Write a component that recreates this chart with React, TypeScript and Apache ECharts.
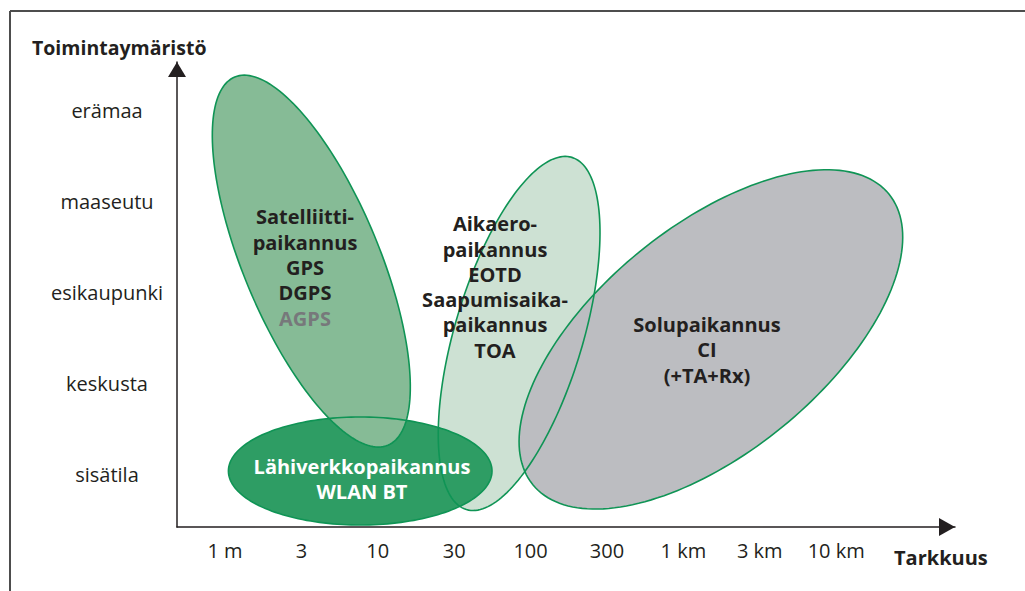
import React, { useEffect, useRef } from "react";
import * as echarts from "echarts";

// Axis categories
const accuracyLabels = ["1 m", "3", "10", "30", "100", "300", "1 km", "3 km", "10 km"];
const environmentLabels = ["sisätila", "keskusta", "esikaupunki", "maaseutu", "erämaa"];

// Positioning methods (drawn in this order)
const methodNames = ["Aikaero", "Solupaikannus", "Lähiverkko", "Satelliitti"];
// centre of each method's region (accuracy index, environment index)
const centerAccuracy = [3.85, 6.36, 1.77, 1.13];
const centerEnvironment = [1.555, 1.49, 0.044, 2.35];
// end point of the main axis of each region
const axisEndAccuracy = [4.54, 8.69, 3.495, 0.128];
const axisEndEnvironment = [3.49, 3.087, 0.044, 4.373];
// half-width across the main axis (accuracy units)
const crossRadius = [0.838, 1.479, 0.707, 0.89];
// label anchor for each region
const labelAccuracy = [3.534, 6.309, 1.793, 1.047];
const labelEnvironment = [2.066, 1.374, -0.044, 2.28];
const methodTexts = [
  "Aikaero-\npaikannus\nEOTD\nSaapumisaika-\npaikannus\nTOA",
  "Solupaikannus\nCI\n(+TA+Rx)",
  "Lähiverkkopaikannus\nWLAN BT",
  "Satelliitti-\npaikannus\nGPS\nDGPS\n{g|AGPS}",
];

const FILLS = ["#cde1d3", "#bcbdc1", "#2e9d64", "#86bb96"];
const TEXT_COLORS = ["#231f20", "#231f20", "#ffffff", "#231f20"];
const STROKE = "#0f9455";
const FONT = '"Open Sans", "Noto Sans", sans-serif';

const X_MIN = -0.628;
const X_MAX = 9.555;
const Y_MIN = -0.5714;
const Y_MAX = 4.538;

function ellipsePoints(api: any) {
  const c = api.coord([api.value(0), api.value(1)]);
  const e = api.coord([api.value(2), api.value(3)]);
  const dx = e[0] - c[0];
  const dy = e[1] - c[1];
  const a = Math.hypot(dx, dy);
  const ux = dx / a;
  const uy = dy / a;
  const b = api.size([api.value(4), 0])[0];
  const pts: number[][] = [];
  const n = 180;
  for (let k = 0; k < n; k++) {
    const t = (2 * Math.PI * k) / n;
    const ca = Math.cos(t) * a;
    const sb = Math.sin(t) * b;
    pts.push([c[0] + ux * ca - uy * sb, c[1] + uy * ca + ux * sb]);
  }
  return pts;
}

export default function App() {
  const ref = useRef<HTMLDivElement>(null);
  useEffect(() => {
    document.body.style.margin = "0";
    if (!ref.current) return;
    const chart = echarts.init(ref.current, undefined, { renderer: "svg" });
    const regionData = methodNames.map((_, i) => [
      centerAccuracy[i],
      centerEnvironment[i],
      axisEndAccuracy[i],
      axisEndEnvironment[i],
      crossRadius[i],
    ]);
    const labelData = methodNames.map((_, i) => [labelAccuracy[i], labelEnvironment[i]]);
    const axisLineStyle = { color: "#231f20", width: 1.5 };
    chart.setOption({
      animation: false,
      backgroundColor: "#ffffff",
      grid: { left: 177, right: 70, top: 62, bottom: 64 },
      xAxis: {
        type: "value",
        min: X_MIN,
        max: X_MAX,
        splitLine: { show: false },
        axisTick: { show: false },
        axisLine: {
          show: true,
          onZero: false,
          symbol: ["none", "triangle"],
          symbolSize: [18, 16],
          symbolOffset: [0, -8],
          lineStyle: axisLineStyle,
        },
        axisLabel: {
          customValues: accuracyLabels.map((_, i) => i),
          formatter: (v: number) => accuracyLabels[Math.round(v)] ?? "",
          color: "#231f20",
          fontFamily: FONT,
          fontSize: 20,
          margin: 13,
        },
      },
      yAxis: {
        type: "value",
        min: Y_MIN,
        max: Y_MAX,
        splitLine: { show: false },
        axisTick: { show: false },
        axisLine: {
          show: true,
          onZero: false,
          symbol: ["none", "triangle"],
          symbolSize: [18, 15],
          symbolOffset: [0, -7.5],
          lineStyle: axisLineStyle,
        },
        axisLabel: {
          customValues: environmentLabels.map((_, i) => i),
          formatter: (v: number) => environmentLabels[Math.round(v)] ?? "",
          color: "#231f20",
          fontFamily: FONT,
          fontSize: 20,
          align: "center",
          margin: 70,
        },
      },
      graphic: [
        { type: "line", shape: { x1: 10, y1: 11, x2: 1030, y2: 11 }, style: { stroke: "#4d4d4d", lineWidth: 2 } },
        { type: "line", shape: { x1: 10, y1: 11, x2: 10, y2: 600 }, style: { stroke: "#4d4d4d", lineWidth: 2 } },
        {
          type: "text",
          x: 32,
          y: 47,
          style: {
            text: "Toimintaymäristö",
            fill: "#231f20",
            font: `bold 19.5px ${FONT}`,
            verticalAlign: "middle",
          },
        },
        {
          type: "text",
          x: 894,
          y: 557,
          style: {
            text: "Tarkkuus",
            fill: "#231f20",
            font: `bold 20px ${FONT}`,
            verticalAlign: "middle",
          },
        },
      ],
      series: [
        {
          type: "custom",
          name: "fills",
          silent: true,
          encode: { x: [0, 2], y: [1, 3] },
          data: regionData,
          renderItem: (params: any, api: any) => ({
            type: "polygon",
            shape: { points: ellipsePoints(api) },
            style: { fill: FILLS[params.dataIndex], stroke: "none" },
          }),
        },
        {
          type: "custom",
          name: "outlines",
          silent: true,
          encode: { x: [0, 2], y: [1, 3] },
          data: regionData,
          renderItem: (params: any, api: any) => ({
            type: "polygon",
            shape: { points: ellipsePoints(api) },
            style: { fill: "none", stroke: STROKE, lineWidth: 1.6 },
          }),
        },
        {
          type: "custom",
          name: "labels",
          silent: true,
          encode: { x: 0, y: 1 },
          data: labelData,
          renderItem: (params: any, api: any) => {
            const p = api.coord([api.value(0), api.value(1)]);
            const i = params.dataIndex;
            return {
              type: "text",
              x: p[0],
              y: p[1],
              style: {
                text: methodTexts[i],
                fill: TEXT_COLORS[i],
                font: `bold 20px ${FONT}`,
                align: "center",
                verticalAlign: "middle",
                lineHeight: 25.3,
                rich: {
                  g: {
                    fill: "#77787b",
                    font: `bold 20px ${FONT}`,
                    lineHeight: 25.3,
                  },
                },
              },
            };
          },
        },
      ],
    });
    return () => chart.dispose();
  }, []);
  return <div ref={ref} style={{ width: 1025, height: 591 }} />;
}
